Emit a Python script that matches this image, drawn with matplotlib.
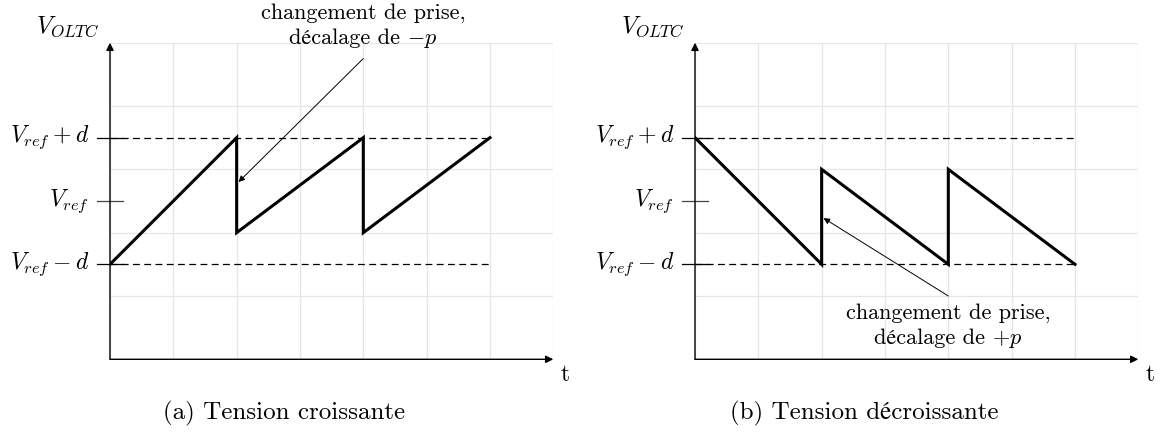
import matplotlib
matplotlib.use('Agg')
import matplotlib.pyplot as plt
from matplotlib.offsetbox import TextArea, HPacker, VPacker, AnnotationBbox

plt.rcParams['mathtext.fontset'] = 'cm'
plt.rcParams['font.family'] = ['cmr10', 'STIXGeneral', 'DejaVu Serif']
plt.rcParams['axes.unicode_minus'] = False

# ---- data ----
t_inc = [0, 2, 2, 4, 4, 6]
v_inc = [1.5, 3.5, 2.0, 3.5, 2.0, 3.5]
t_dec = [0, 2, 2, 4, 4, 6]
v_dec = [3.5, 1.5, 3.0, 1.5, 3.0, 1.5]

level_values = [1.5, 2.5, 3.5]
level_labels = [r'$V_{ref}-d$', r'$V_{ref}$', r'$V_{ref}+d$']
dashed_levels = [1.5, 3.5]
dashed_end = 6

grid_x = [0, 1, 2, 3, 4, 5, 6, 7]
grid_y = [0, 1, 2, 3, 4, 5]

ann_inc_start = (4.0, 4.75)
ann_inc_tip = (2.03, 2.80)
ann_inc_lines = ['changement de prise,', 'décalage de', r'$-p$']
ann_inc_text_pos = (4.0, 5.26)

ann_dec_start = (4.0, 1.0)
ann_dec_tip = (2.03, 2.23)
ann_dec_lines = ['changement de prise,', 'décalage de', r'$+p$']
ann_dec_text_pos = (4.0, 0.515)

captions = ['(a) Tension croissante', '(b) Tension décroissante']
caption_x = [284, 864]

W, H = 1160, 432
fig = plt.figure(figsize=(W / 100, H / 100), dpi=100)

FS_ANN = 16
FS_LAB = 17
FS_CAP = 18


def panel(x0, t, v, ann_start, ann_tip, ann_lines, ann_pos, caption, cap_x):
    ax = fig.add_axes([x0 / W, (H - 359.3) / H, 443.3 / W, 316.6 / H])
    ax.set_xlim(0, 7)
    ax.set_ylim(0, 5)
    ax.axis('off')
    # grid
    for gx in grid_x:
        ax.plot([gx, gx], [0, grid_y[-1]], color='#e6e6e6', lw=0.9, zorder=0)
    for gy in grid_y:
        ax.plot([0, grid_x[-1]], [gy, gy], color='#e6e6e6', lw=0.9, zorder=0)
    # axes with arrows
    ax.annotate('', xy=(0, 5.0), xytext=(0, 0),
                arrowprops=dict(arrowstyle='-|>', color='black', lw=1.0,
                                mutation_scale=11, shrinkA=0, shrinkB=0),
                annotation_clip=False)
    ax.annotate('', xy=(7.0, 0), xytext=(0, 0),
                arrowprops=dict(arrowstyle='-|>', color='black', lw=1.0,
                                mutation_scale=11, shrinkA=0, shrinkB=0),
                annotation_clip=False)
    # dashed limits
    for y in dashed_levels:
        ax.plot([0, dashed_end], [y, y], color='black', lw=0.9,
                ls=(0, (5.5, 3.5)), zorder=2)
    # ticks + labels
    for y, lab in zip(level_values, level_labels):
        col = 'black' if y in dashed_levels else '#444444'
        ax.plot([-0.2, 0.2], [y, y], color=col, lw=0.9, clip_on=False, zorder=2)
        ax.text(-0.33, y, lab, ha='right', va='center', fontsize=FS_LAB)
    # signal
    ax.plot(t, v, color='black', lw=2.2, solid_joinstyle='miter', zorder=3)
    # annotation
    ax.annotate('', xy=ann_tip, xytext=ann_start,
                arrowprops=dict(arrowstyle='-|>', color='black', lw=0.7,
                                mutation_scale=9, shrinkA=0, shrinkB=0),
                annotation_clip=False, zorder=4)
    tp = dict(fontsize=FS_ANN)
    line1 = TextArea(ann_lines[0], textprops=tp)
    line2 = HPacker(children=[TextArea(ann_lines[1], textprops=tp),
                              TextArea(ann_lines[2], textprops=tp)],
                    align='baseline', pad=0, sep=5)
    box = VPacker(children=[line1, line2], align='center', pad=0, sep=4)
    ab = AnnotationBbox(box, ann_pos, xycoords='data', frameon=False,
                        box_alignment=(0.5, 0.5), pad=0,
                        annotation_clip=False)
    ax.add_artist(ab)
    # axis labels
    ax.text(7.18, -0.25, 't', ha='center', va='center', fontsize=FS_LAB)
    fig.text((x0 - 42.5) / W, 1 - 27 / H, r'$V_{OLTC}$', ha='center',
             va='center', fontsize=FS_LAB + 0.5)
    fig.text(cap_x / W, 1 - 413 / H, caption, ha='center', va='center',
             fontsize=FS_CAP)
    return ax


panel(110, t_inc, v_inc, ann_inc_start, ann_inc_tip, ann_inc_lines,
      ann_inc_text_pos, captions[0], caption_x[0])
panel(695, t_dec, v_dec, ann_dec_start, ann_dec_tip, ann_dec_lines,
      ann_dec_text_pos, captions[1], caption_x[1])

fig.savefig('out.png', dpi=100)
